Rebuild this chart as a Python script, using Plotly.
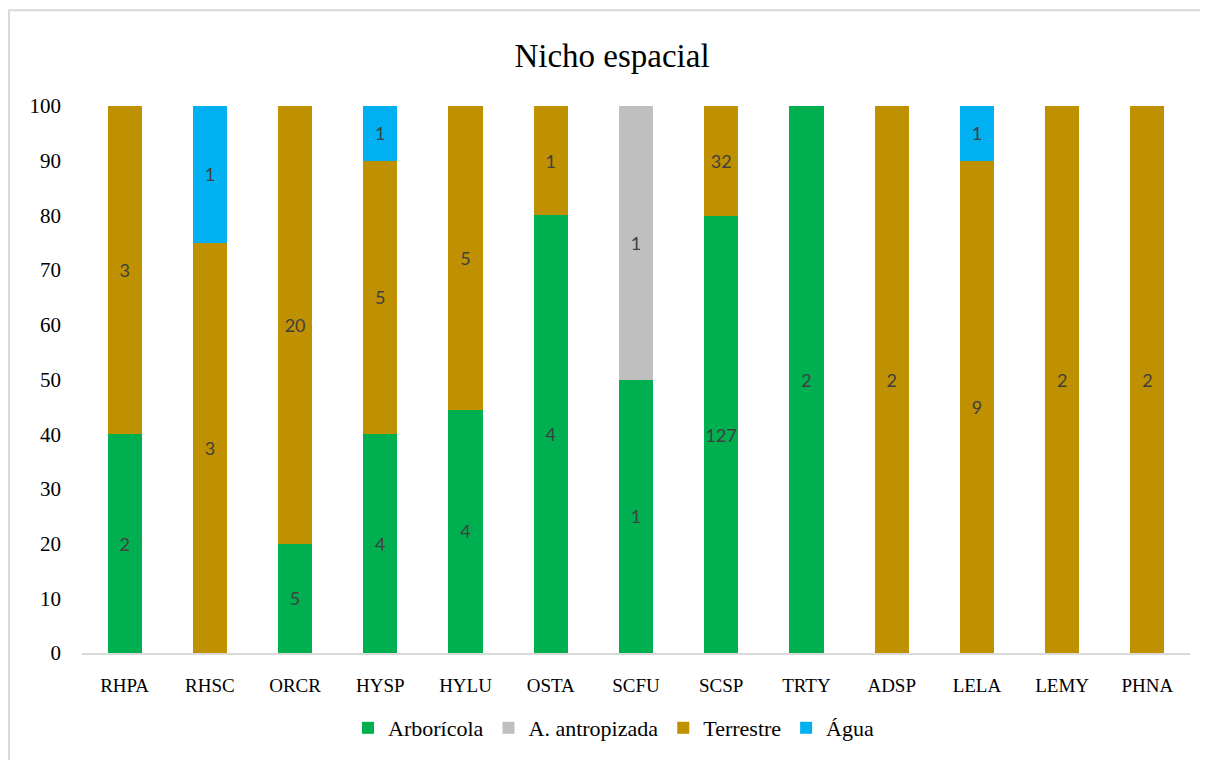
import plotly.graph_objects as go

categories = ["RHPA", "RHSC", "ORCR", "HYSP", "HYLU", "OSTA", "SCFU", "SCSP", "TRTY", "ADSP", "LELA", "LEMY", "PHNA"]
arboricola = [2, 0, 5, 4, 4, 4, 1, 127, 2, 0, 0, 0, 0]
antropizada = [0, 0, 0, 0, 0, 0, 1, 0, 0, 0, 0, 0, 0]
terrestre = [3, 3, 20, 5, 5, 1, 0, 32, 0, 2, 9, 2, 2]
agua = [0, 1, 0, 1, 0, 0, 0, 0, 0, 0, 1, 0, 0]

series = [
    ("Arborícola", arboricola, "#00B050"),
    ("A. antropizada", antropizada, "#BFBFBF"),
    ("Terrestre", terrestre, "#BF9000"),
    ("Água", agua, "#00B0F0"),
]

SERIF = "Liberation Serif, Times New Roman, serif"
# the page body has an 8px margin; the figure is sized to fill the rest
OFF = 8
W, H = 1208 - OFF, 760 - OFF
ml, mr, mt, mb = 82 - OFF, 18, 106 - OFF, 106
pw, ph = W - ml - mr, H - mt - mb

fig = go.Figure()
for name, vals, color in series:
    fig.add_trace(go.Bar(
        name=name, x=categories, y=vals,
        marker=dict(color=color, line=dict(width=0)),
        text=[str(v) if v else "" for v in vals],
        textposition="inside", insidetextanchor="middle", textangle=0,
        textfont=dict(family="Lato", size=18, color="#404040"),
        constraintext="none", cliponaxis=False,
    ))

fig.update_layout(
    width=W, height=H,
    margin=dict(l=ml, r=mr, t=mt, b=mb),
    barmode="stack", barnorm="percent", bargap=0.6,
    paper_bgcolor="white", plot_bgcolor="white",
    title=dict(text="Nicho espacial", x=(612 - OFF) / W, xref="container", xanchor="center",
               y=1 - (55 - OFF) / H, yref="container", yanchor="middle",
               font=dict(family=SERIF, size=33, color="#000000")),
    font=dict(family=SERIF, size=18, color="#000000"),
    showlegend=True,
    legend=dict(orientation="h", x=(614 - OFF - ml) / pw, xanchor="center",
                y=-(728 - 654) / ph, yanchor="middle",
                font=dict(family=SERIF, size=22, color="#000000"),
                traceorder="normal", itemwidth=30, tracegroupgap=0),
    xaxis=dict(showgrid=False, showline=True, linecolor="#D9D9D9", linewidth=2,
               ticks="", ticklabelstandoff=14,
               tickfont=dict(family=SERIF, size=19, color="#000000")),
    yaxis=dict(range=[0, 100], dtick=10, showgrid=False, showline=False, zeroline=False,
               ticks="", ticklabelstandoff=20,
               tickfont=dict(family=SERIF, size=21, color="#000000")),
    shapes=[dict(type="rect", xref="paper", yref="paper",
                 x0=(1 - ml) / pw, x1=(W + 5 - ml) / pw,
                 y0=-(mb + 5) / ph, y1=(H - mb - 2) / ph,
                 line=dict(color="#D9D9D9", width=2), fillcolor="rgba(0,0,0,0)", layer="below")],
)

fig.write_html("out.html")
